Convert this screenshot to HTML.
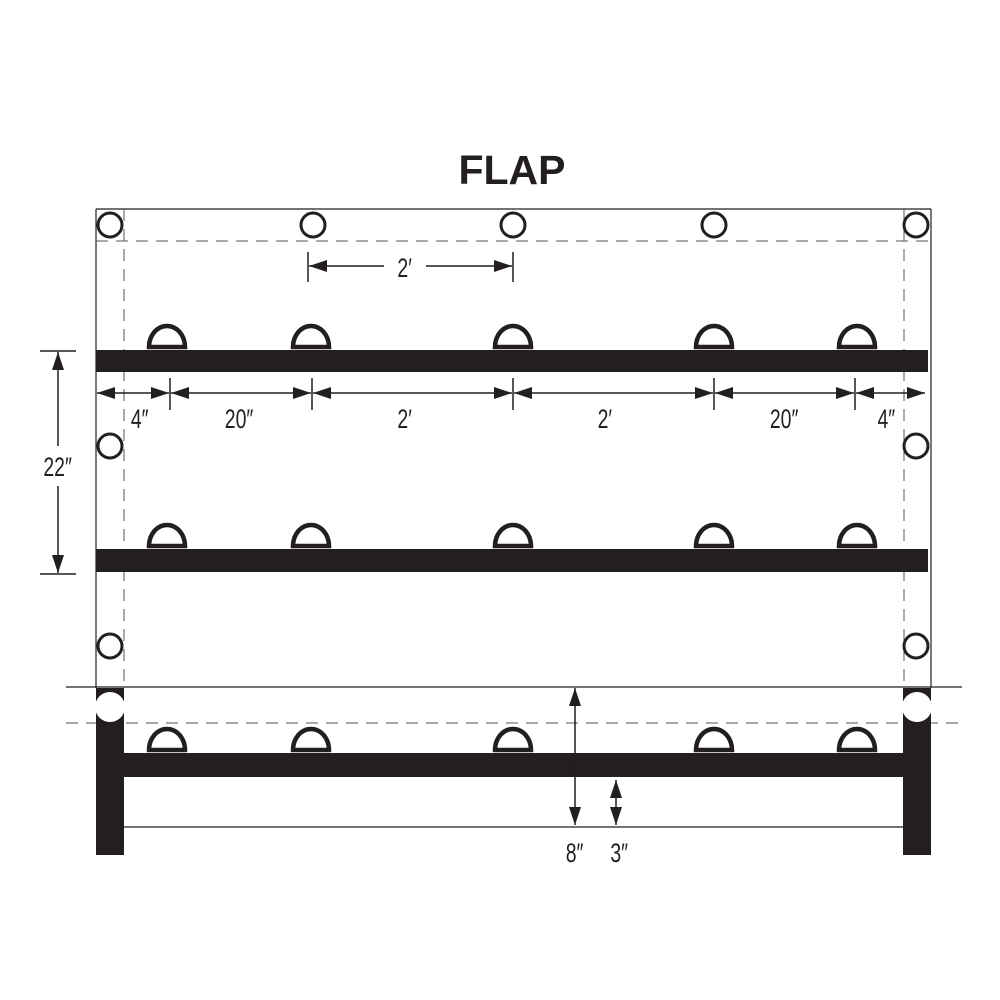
<!DOCTYPE html>
<html><head><style>body{margin:0;background:#fff}svg{display:block}</style></head><body>
<svg width="1000" height="1000" viewBox="0 0 1000 1000" xmlns="http://www.w3.org/2000/svg">
<defs>
<marker id="a" viewBox="0 0 18 12" refX="18" refY="6" markerWidth="18" markerHeight="12" markerUnits="userSpaceOnUse" orient="auto-start-reverse"><path d="M0,0L18,6L0,12z" fill="#231f20"/></marker>
</defs>
<g fill="none" stroke="#231f20">
<text x="512" y="184" font-family="Liberation Sans, sans-serif" font-weight="bold" font-size="41" text-anchor="middle" fill="#231f20" stroke="none">FLAP</text>
<line x1="96" y1="209" x2="931" y2="209" stroke-width="1.2"/>
<line x1="96" y1="209" x2="96" y2="688" stroke-width="1.2"/>
<line x1="931" y1="209" x2="931" y2="688" stroke-width="1.2"/>
<g stroke-dasharray="12,8" stroke-width="1" stroke="#555">
<line x1="96" y1="241" x2="931" y2="241"/>
<line x1="124" y1="209" x2="124" y2="688"/>
<line x1="904" y1="209" x2="904" y2="688"/>
<line x1="66" y1="723" x2="962" y2="723"/>
</g>
<line x1="66" y1="687" x2="962" y2="687" stroke-width="1.2"/>
<g stroke-width="3">
<circle cx="110" cy="225" r="12"/><circle cx="313" cy="225" r="12"/><circle cx="513" cy="225" r="12"/><circle cx="714" cy="225" r="12"/><circle cx="916" cy="225" r="12"/>
<circle cx="110" cy="446" r="12"/><circle cx="916" cy="446" r="12"/>
<circle cx="110" cy="646" r="12"/><circle cx="916" cy="646" r="12"/>
</g>
<g fill="#231f20" stroke="none">
<rect x="96" y="350" width="832" height="22"/>
<rect x="96" y="549" width="832" height="23"/>
<rect x="96" y="753" width="835" height="24"/>
<rect x="96" y="688" width="28" height="167"/>
<rect x="903" y="688" width="28" height="167"/>
</g>
<circle cx="110" cy="707" r="15" fill="#fff" stroke="none"/>
<circle cx="917" cy="707" r="15" fill="#fff" stroke="none"/>
<g stroke-width="4.5">
<path d="M149,347 A18,21 0 0 1 185,347Z"/><path d="M293,347 A18,21 0 0 1 329,347Z"/><path d="M495,347 A18,21 0 0 1 531,347Z"/><path d="M696,347 A18,21 0 0 1 732,347Z"/><path d="M839,347 A18,21 0 0 1 875,347Z"/>
<path d="M149,546 A18,21 0 0 1 185,546Z"/><path d="M293,546 A18,21 0 0 1 329,546Z"/><path d="M495,546 A18,21 0 0 1 531,546Z"/><path d="M696,546 A18,21 0 0 1 732,546Z"/><path d="M839,546 A18,21 0 0 1 875,546Z"/>
<path d="M149,750 A18,21 0 0 1 185,750Z"/><path d="M293,750 A18,21 0 0 1 329,750Z"/><path d="M495,750 A18,21 0 0 1 531,750Z"/><path d="M696,750 A18,21 0 0 1 732,750Z"/><path d="M839,750 A18,21 0 0 1 875,750Z"/>
</g>
<line x1="124" y1="827" x2="903" y2="827" stroke-width="1.2"/>
<g stroke-width="1.5">
<line x1="308" y1="252" x2="308" y2="282"/><line x1="513" y1="252" x2="513" y2="282"/>
<line x1="309" y1="266" x2="384" y2="266" marker-start="url(#a)"/>
<line x1="426" y1="266" x2="512" y2="266" marker-end="url(#a)"/>
<line x1="170" y1="378" x2="170" y2="410"/><line x1="312" y1="378" x2="312" y2="410"/><line x1="513" y1="378" x2="513" y2="410"/><line x1="714" y1="378" x2="714" y2="410"/><line x1="855" y1="378" x2="855" y2="410"/>
<line x1="97" y1="393" x2="169" y2="393" marker-start="url(#a)" marker-end="url(#a)"/>
<line x1="171" y1="393" x2="311" y2="393" marker-start="url(#a)" marker-end="url(#a)"/>
<line x1="313" y1="393" x2="512" y2="393" marker-start="url(#a)" marker-end="url(#a)"/>
<line x1="514" y1="393" x2="713" y2="393" marker-start="url(#a)" marker-end="url(#a)"/>
<line x1="715" y1="393" x2="854" y2="393" marker-start="url(#a)" marker-end="url(#a)"/>
<line x1="856" y1="393" x2="925" y2="393" marker-start="url(#a)" marker-end="url(#a)"/>
<line x1="40" y1="351" x2="76" y2="351"/><line x1="40" y1="574" x2="76" y2="574"/>
<line x1="58" y1="352" x2="58" y2="446" marker-start="url(#a)"/>
<line x1="58" y1="486" x2="58" y2="573" marker-end="url(#a)"/>
<line x1="575" y1="688" x2="575" y2="825" marker-start="url(#a)" marker-end="url(#a)"/>
<line x1="616" y1="780" x2="616" y2="825" marker-start="url(#a)" marker-end="url(#a)"/>
</g>
<g font-family="Liberation Sans, sans-serif" font-size="27" fill="#231f20" stroke="none" text-anchor="middle">
<g transform="scale(0.72,1)">
<text x="562" y="277">2′</text>
<text x="194" y="428">4″</text>
<text x="332" y="428">20″</text>
<text x="562" y="428">2′</text>
<text x="840" y="428">2′</text>
<text x="1089" y="428">20″</text>
<text x="1231" y="428">4″</text>
<text x="80" y="476">22″</text>
<text x="798" y="862">8″</text>
<text x="860" y="862">3″</text>
</g>
</g>
</g>
</svg>
</body></html>
